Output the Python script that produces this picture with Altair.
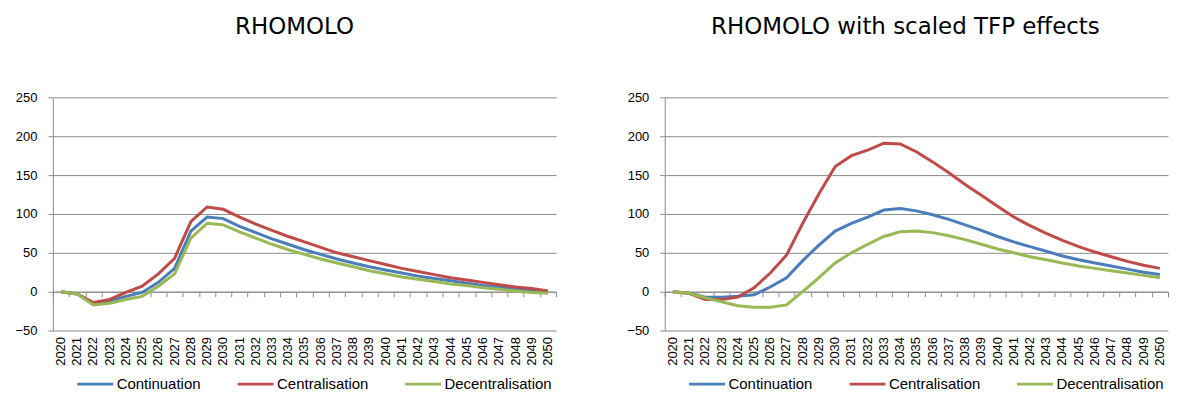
import altair as alt
import pandas as pd

years = list(range(2020, 2051))
series = ["Continuation", "Centralisation", "Decentralisation"]
colors = ["#4a7ebb", "#be4b48", "#98b954"]

# RHOMOLO
base_cont = [0, -3, -15, -12, -6, -1, 12, 30, 78, 96, 94, 84, 76, 68, 61, 54,
             48, 42, 37, 32, 28, 24, 20, 17, 14, 11, 8, 6, 4, 2, 0]
base_cent = [0, -3, -14, -10, -1, 7, 23, 43, 90, 109, 106, 96, 87, 79, 71, 64,
             57, 50, 45, 40, 35, 30, 26, 22, 18, 15, 12, 9, 6, 4, 1]
base_dec = [0, -3, -17, -15, -10, -6, 7, 23, 69, 88, 86, 77, 69, 61, 54, 48,
            42, 37, 32, 27, 23, 19, 16, 13, 10, 8, 5, 3, 1, -1, -2]

# RHOMOLO with scaled TFP effects
tfp_cont = [0, -2, -7, -7, -6, -4, 6, 18, 40, 60, 78, 88, 96, 105, 107, 104,
            99, 93, 86, 79, 71, 64, 58, 52, 46, 41, 37, 33, 29, 25, 22]
tfp_cent = [0, -2, -10, -10, -7, 5, 24, 47, 88, 126, 161, 175, 182, 191, 190, 180,
            167, 153, 138, 124, 110, 96, 85, 75, 66, 58, 51, 45, 39, 34, 30]
tfp_dec = [0, -2, -8, -13, -18, -20, -20, -17, 0, 18, 37, 50, 61, 71, 77, 78,
           76, 72, 67, 61, 55, 50, 45, 41, 37, 33, 30, 27, 24, 21, 18]

W, H = 505, 234
Y_MIN, Y_MAX = -50, 250
GREY = "#8c8c8c"
AXIS_FONT = "Liberation Sans"


def long_table(cont, cent, dec):
    rows = []
    for name, vals in zip(series, [cont, cent, dec]):
        for yr, v in zip(years, vals):
            rows.append({"year": yr, "series": name, "value": v})
    return pd.DataFrame(rows)


def panel(title, df, title_dx):
    x_scale = alt.Scale(type="band", paddingInner=0, paddingOuter=0)
    lines = alt.Chart(df).mark_line(strokeWidth=3).encode(
        x=alt.X("year:O", bandPosition=0.5, scale=x_scale,
                axis=alt.Axis(title=None, orient="bottom", labelAngle=-90,
                              ticks=False, domain=False, labelPadding=6,
                              labelFont=AXIS_FONT, labelFontSize=13,
                              labelColor="black")),
        y=alt.Y("value:Q", scale=alt.Scale(domain=[Y_MIN, Y_MAX], nice=False),
                axis=alt.Axis(title=None, values=list(range(Y_MIN, Y_MAX + 1, 50)),
                              grid=True, gridColor=GREY, domainColor=GREY,
                              tickColor=GREY, tickSize=5, labelPadding=11,
                              labelFont=AXIS_FONT, labelFontSize=13,
                              labelColor="black")),
        color=alt.Color("series:N", sort=series,
                        scale=alt.Scale(domain=series, range=colors),
                        legend=alt.Legend(title=None, orient="none",
                                          direction="horizontal",
                                          legendX=23, legendY=268)),
    )
    # horizontal category axis drawn through zero, ticks between the years
    zero_axis = alt.Chart(df).mark_point(opacity=0).encode(
        x=alt.X("year:O", scale=x_scale,
                axis=alt.Axis(title=None, orient="bottom", labels=False,
                              tickBand="extent", ticks=True, tickSize=5,
                              tickColor=GREY, domainColor=GREY,
                              offset=-H * (0 - Y_MIN) / (Y_MAX - Y_MIN))),
    )
    return alt.layer(lines, zero_axis).resolve_axis(x="independent").properties(
        width=W, height=H,
        title=alt.TitleParams(title, font="DejaVu Sans", fontSize=23,
                              fontWeight="normal", color="black",
                              anchor="middle", dx=title_dx, offset=53),
    )


left = panel("RHOMOLO", long_table(base_cont, base_cent, base_dec), -10)
right = panel("RHOMOLO with scaled TFP effects",
              long_table(tfp_cont, tfp_cent, tfp_dec), -11)

chart = alt.hconcat(left, right, spacing=69).resolve_scale(
    color="independent"
).resolve_legend(color="independent").configure_view(
    stroke=None
).configure_legend(
    symbolType="stroke", symbolSize=1296, symbolStrokeWidth=3,
    labelFont="Liberation Sans Narrow, Liberation Sans", labelFontSize=15,
    labelColor="black", columnPadding=30, labelOffset=2,
).properties(
    padding={"left": 6, "top": 7, "right": 0, "bottom": 5}
)

chart.save("out.html", embed_options={"renderer": "svg", "actions": False})
